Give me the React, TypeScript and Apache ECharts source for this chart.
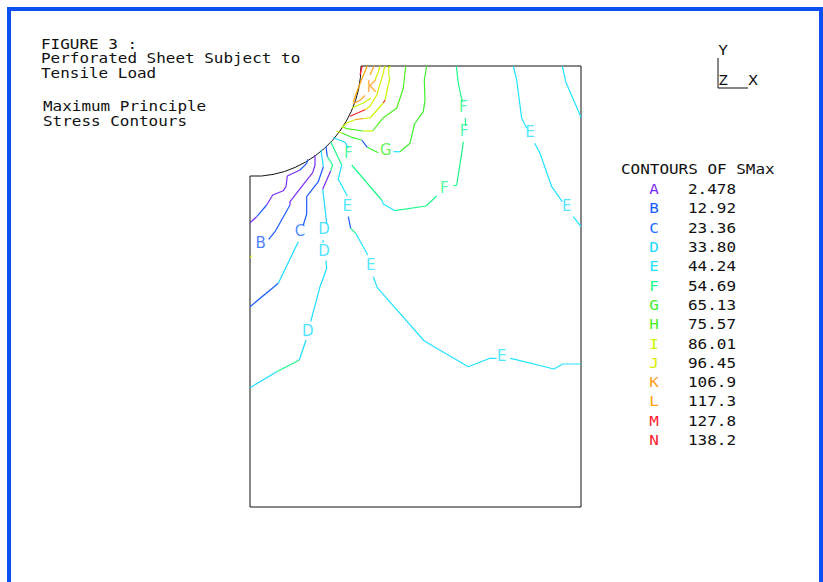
import React, { useEffect, useRef } from "react";
import * as echarts from "echarts";

const FONT = '"DejaVu Sans Mono"';
const LABEL_FONT = '"DejaVu Sans"';

const titleLines: [string, number, number][] = [
  ["FIGURE 3 :", 41, 44],
  ["Perforated Sheet Subject to", 41, 58],
  ["Tensile Load", 41, 73],
  ["Maximum Principle", 43, 106],
  ["Stress Contours", 43, 121],
];

const legendTitle = "CONTOURS OF SMax";
const levelLetters = ["A", "B", "C", "D", "E", "F", "G", "H", "I", "J", "K", "L", "M", "N"];
const levelValues = ["2.478", "12.92", "23.36", "33.80", "44.24", "54.69", "65.13", "75.57", "86.01", "96.45", "106.9", "117.3", "127.8", "138.2"];
const levelColors = ["#7a2cf5", "#1c5cff", "#1c6cff", "#1cdcff", "#22e4ff", "#1cf98a", "#3cf02a", "#4cf020", "#c8f800", "#d8f000", "#ffa020", "#ffa500", "#ff2030", "#ff2030"];

type P = [number, number];

// Sheet outline, in the sheet's own coordinates (origin at the lower left corner).
const outline: P[] = [
  [111, 441], [331, 441], [331, 0], [0, 0], [0, 331],
  [11.6, 331], [23.1, 332.6], [34.3, 335.4], [45.1, 339.6], [55.5, 344.9],
  [65.2, 351.2], [74.3, 358.5], [82.5, 366.7], [89.8, 375.8], [96.1, 385.5],
  [101.4, 395.9], [105.6, 406.7], [108.6, 417.9], [110.4, 429.4], [111, 441],
];

// Contour pieces: [level whose colour the piece has, points].
const contourA: [string, P[]][] = [
  ["A", [[0, 284.3], [6.7, 290.3]]],
  ["B", [[6.7, 290.3], [16.7, 302]]],
  ["A", [[16.7, 302], [22.7, 312], [33.3, 316.3], [36, 320.3], [37.3, 331], [50, 337]]],
  ["B", [[50, 337], [56.7, 343.7], [57.7, 347.7]]],
];
const contourB: [string, P[]][] = [
  ["B", [[18.7, 267.7], [25, 275.3], [40, 302]]],
  ["A", [[40, 302], [40, 305.3], [51.7, 320.3], [62.7, 334.3], [65, 342], [65, 352]]],
];
const contourC: [string, P[]][] = [
  ["B", [[0, 200.3], [28.3, 223.7]]],
  ["D", [[28.3, 223.7], [48.3, 265.3]]],
  ["B", [[53.3, 282], [56.7, 293], [56.7, 310.3], [68.3, 325.3], [73.3, 340.3]]],
  ["D", [[73.3, 340.3], [71, 357]]],
];
const contourD: [string, P[]][] = [
  ["D", [[0, 119.3], [26.7, 135.3]]],
  ["F", [[26.7, 135.3], [49.3, 147]]],
  ["D", [[49.3, 147], [56, 167]]],
  ["D", [[60.7, 185.3], [70, 220.3], [76.7, 238.7], [76, 246.3]]],
  ["D", [[72.7, 264], [73.3, 267]]],
  ["D", [[76.7, 283.7], [72.7, 317.7]]],
  ["A", [[72.7, 317.7], [80.7, 336.3]]],
  ["F", [[80.7, 336.3], [82.7, 342], [77.3, 350.3]]],
  ["B", [[77.3, 350.3], [76, 360.3]]],
];
const contourE: [string, P[]][] = [
  ["E", [[331, 143], [312.7, 143], [304, 138], [265, 147.7], [260, 148.7]]],
  ["E", [[246.7, 148.7], [240, 148.7], [218.3, 140.3], [174.3, 166], [127.3, 219.3], [123.3, 230.3]]],
  ["E", [[117.7, 252], [105.7, 273.7]]],
  ["F", [[105.7, 273.7], [100.7, 278.7]]],
  ["B", [[100.7, 278.7], [98.3, 290.3]]],
  ["E", [[97.3, 311], [88.3, 327.7], [91.7, 342]]],
  ["F", [[91.7, 342], [80.7, 365.3]]],
  ["E", [[263.3, 441], [266.7, 427], [271.7, 388.7], [276.7, 378.7]]],
  ["E", [[284.7, 363.7], [290, 353.7], [301.7, 320.3], [312.3, 305.3]]],
  ["E", [[323.3, 290.3], [331, 280.3]]],
  ["E", [[312.3, 441], [315.7, 425.3], [331, 389.7]]],
];
const contourF: [string, P[]][] = [
  ["D", [[83.3, 369.3], [95, 364.7], [98.3, 358.7]]],
  ["F", [[101.7, 342], [127.3, 312], [131.7, 307]]],
  ["E", [[131.7, 307], [133.3, 303], [145, 296.3]]],
  ["F", [[145, 296.3], [176, 301], [186.7, 311]]],
  ["F", [[203.3, 321], [206.7, 322], [211.7, 353.7], [213.3, 365.3]]],
  ["F", [[215.7, 381], [215.3, 388.7]]],
  ["F", [[212.3, 405.3], [208.3, 423.7], [206.3, 441]]],
];
const contourG: [string, P[]][] = [
  ["G", [[176.7, 441], [174.3, 427], [175, 407], [173.3, 395.3], [164.5, 383], [160, 363.7], [150, 355.3]]],
  ["E", [[150, 355.3], [143.3, 355.3]]],
  ["G", [[128.3, 354.3], [117.3, 359.7]]],
  ["B", [[117.3, 359.7], [111.7, 367]]],
  ["G", [[111.7, 367], [101.7, 369.7], [91.7, 374]]],
  ["I", [[91.7, 374], [86.7, 375.7]]],
];
const contourH: [string, P[]][] = [
  ["H", [[155.7, 441], [153.3, 418.7], [146.7, 398.7], [133.3, 389.3], [122.7, 376]]],
  ["I", [[122.7, 376], [113.3, 376]]],
  ["H", [[113.3, 376], [96.7, 378.3], [91.7, 380.7]]],
];
const contourI: [string, P[]][] = [
  ["I", [[140, 441], [139.3, 439]]],
  ["I", [[140, 430], [135, 407]]],
  ["M", [[135, 407], [133.3, 404]]],
  ["I", [[133.3, 404], [120, 389]]],
  ["J", [[120, 389], [113.3, 388.5]]],
  ["K", [[113.3, 388.5], [105, 387.3]]],
  ["I", [[105, 387.3], [96.7, 384], [91.7, 379]]],
];
const contourJ: [string, P[]][] = [
  ["J", [[135, 441], [131.7, 428.3], [126.7, 411.7], [120, 400.7], [115, 397.3]]],
  ["J", [[130, 441], [128.3, 435], [125, 426.7]]],
  ["I", [[121, 409], [113.3, 404], [101.7, 399]]],
  ["I", [[1.7, 251.3], [0, 249.3]]],
];
const contourK: [string, P[]][] = [
  ["K", [[124, 441], [120, 432]]],
  ["K", [[115, 411.7], [110, 406.7], [103, 403.3]]],
];
const contourL: [string, P[]][] = [
  ["L", [[117.3, 441], [113.3, 431.7], [110, 423.3], [106.7, 415], [103.3, 405]]],
];
const contourM: [string, P[]][] = [
  ["M", [[112.3, 441], [110, 432]]],
  ["M", [[115, 397.3], [100, 390.7]]],
];

const allContours = [
  contourA, contourB, contourC, contourD, contourE, contourF, contourG,
  contourH, contourI, contourJ, contourK, contourL, contourM,
];

const contourLabels: [string, number, number][] = [
  ["B", 10.7, 263.7], ["C", 50, 276.3], ["D", 74, 277.7], ["D", 74, 256.3], ["D", 57.7, 176.3],
  ["E", 97.3, 301.3], ["E", 120.7, 241.7], ["E", 251.7, 151.3], ["E", 280, 374.7], ["E", 316.7, 301.3],
  ["F", 98.3, 353.7], ["F", 194.3, 318.7], ["F", 214, 375.7], ["F", 213.3, 399.7],
  ["G", 135.7, 357.3], ["I", 139, 435.3], ["K", 121.7, 420],
];

const colorOf = (l: string) => levelColors[levelLetters.indexOf(l)];
const FRAME = "#0a50f5";

export default function App() {
  const ref = useRef<HTMLDivElement>(null);
  useEffect(() => {
    const chart = echarts.init(ref.current!, undefined, { renderer: "svg" });
    const text = (t: string, x: number, y: number, fill = "#111", align = "left") => ({
      type: "text",
      silent: true,
      x,
      y,
      scaleX: 1.14,
      style: { text: t, x: 0, y: 0, fill, font: `14px ${FONT}`, textAlign: align, textVerticalAlign: "middle" },
    });
    const series: any[] = [
      {
        type: "line", data: outline, symbol: "none", silent: true, clip: false,
        lineStyle: { color: "#111", width: 1 },
      },
    ];
    allContours.forEach((c) =>
      c.forEach(([lvl, pts]) =>
        series.push({
          type: "line", data: pts, symbol: "none", silent: true, clip: false,
          lineStyle: { color: colorOf(lvl), width: 1.2 },
        })
      )
    );
    series.push({
      type: "scatter", symbol: "circle", symbolSize: 1, silent: true, clip: false,
      itemStyle: { color: "transparent" },
      data: contourLabels.map(([l, x, y]) => ({
        name: l, value: [x, y],
        label: { show: true, position: "inside", formatter: l, color: colorOf(l), fontFamily: LABEL_FONT, fontSize: 15 },
      })),
    });
    chart.setOption({
      animation: false,
      backgroundColor: "#fff",
      grid: { left: 250, top: 66, width: 331, height: 441 },
      xAxis: { type: "value", min: 0, max: 331, show: false },
      yAxis: { type: "value", min: 0, max: 441, show: false },
      series,
      graphic: [
        { type: "rect", silent: true, shape: { x: 7, y: 7, width: 816, height: 4 }, style: { fill: FRAME } },
        { type: "rect", silent: true, shape: { x: 7, y: 7, width: 4, height: 575 }, style: { fill: FRAME } },
        { type: "rect", silent: true, shape: { x: 819, y: 7, width: 4, height: 575 }, style: { fill: FRAME } },
        ...titleLines.map(([t, x, y]) => text(t, x, y)),
        text("Y", 723, 50.5, "#111", "center"),
        text("Z", 723, 80.5, "#111", "center"),
        text("X", 753, 80.5, "#111", "center"),
        { type: "polyline", silent: true, shape: { points: [[718, 58], [718, 88], [748, 88]] }, style: { stroke: "#111", fill: "none", lineWidth: 1 } },
        text(legendTitle, 621, 169),
        ...levelLetters.flatMap((l, i) => [
          text(l, 654, 189.5 + i * 19.3, levelColors[i], "center"),
          text(levelValues[i], 688, 189.5 + i * 19.3),
        ]),
      ],
    });
    return () => chart.dispose();
  }, []);
  return <div ref={ref} style={{ position: "absolute", left: 0, top: 0, width: 823, height: 582 }} />;
}
